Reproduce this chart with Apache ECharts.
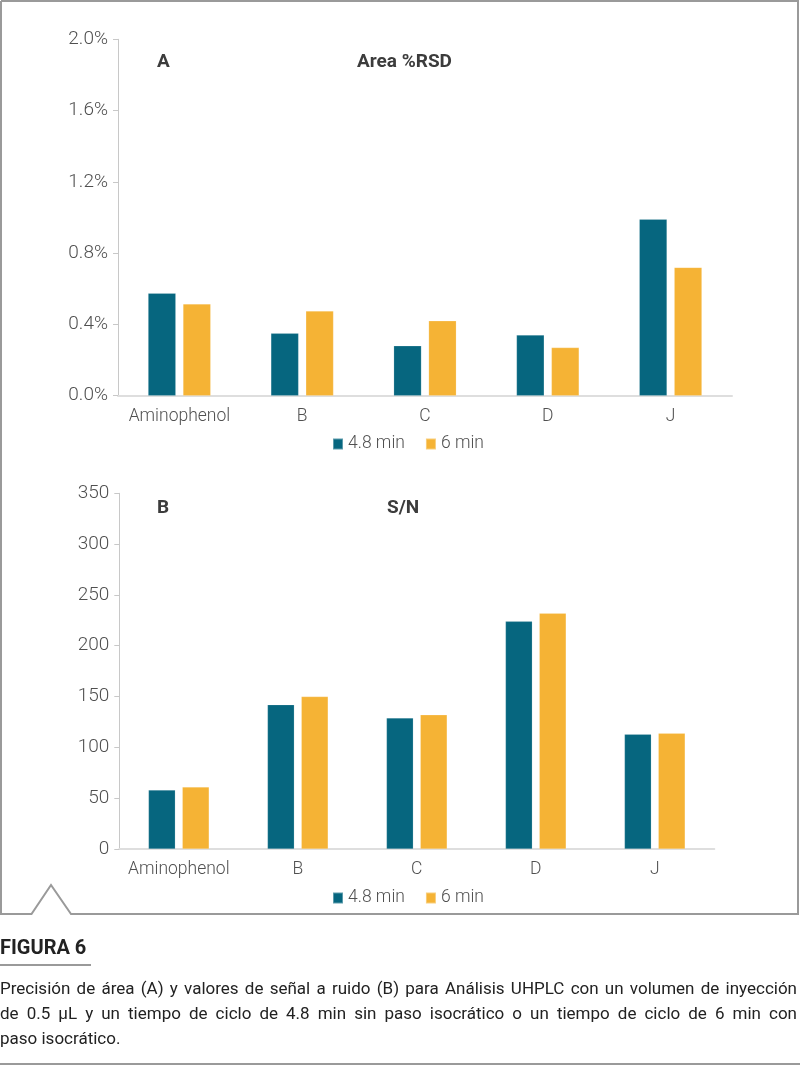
<!DOCTYPE html>
<html>
<head>
<meta charset="utf-8">
<script src="https://cdn.jsdelivr.net/npm/echarts@6/dist/echarts.min.js"></script>
<style>
  html, body { margin: 0; padding: 0; background: #fff; }
  #wrap { position: relative; width: 800px; height: 1066px; }
  #chart { position: absolute; left: 0; top: 0; width: 800px; height: 1066px; }
  #caption { position: absolute; left: 0; top: 976px; width: 797px;
    font-family: 'Roboto', sans-serif; font-size: 17px;
    line-height: 25px; color: #222; }
  #caption .j { text-align: justify; text-align-last: justify; white-space: nowrap; }
</style>
</head>
<body>
<div id="wrap">
  <div id="chart"></div>
  <div id="caption">
    <div class="j">Precisión de área (A) y valores de señal a ruido (B) para Análisis UHPLC con un volumen de inyección</div>
    <div class="j">de 0.5 µL y un tiempo de ciclo de 4.8 min sin paso isocrático o un tiempo de ciclo de 6 min con</div>
    <div>paso isocrático.</div>
  </div>
</div>
<script>
// ---- data ----
var categories = ['Aminophenol', 'B', 'C', 'D', 'J'];
var seriesNames = ['4.8 min', '6 min'];
// Panel A: Area %RSD (percent)
var rsd48 = [0.575, 0.35, 0.28, 0.34, 0.99];
var rsd6  = [0.515, 0.475, 0.42, 0.27, 0.72];
// Panel B: S/N
var sn48 = [58, 142, 129, 224, 113];
var sn6  = [61, 150, 132, 232, 114];
var titleA = ['A', 'Area %RSD'];
var titleB = ['B', 'S/N'];
var figLabel = 'FIGURA 6';

var TEAL = '#06667F';
var ORANGE = '#F5B335';
var FONT = "'Roboto', sans-serif";
var LABEL = '#505050';
var TITLE = '#3c3c3c';
var FRAME = '#9a9a9a';

var chart = echarts.init(document.getElementById('chart'), null, { renderer: 'canvas' });

function xAxis(idx) {
  return {
    type: 'category', gridIndex: idx, data: categories,
    axisLine: { show: true, lineStyle: { color: '#dedede', width: 2 } },
    axisTick: { show: false },
    axisLabel: { interval: 0, color: LABEL, fontFamily: FONT, fontWeight: 300, fontSize: 17.5, margin: 12 }
  };
}
function yAxis(idx, max, interval, fmt) {
  return {
    type: 'value', gridIndex: idx, min: 0, max: max, interval: interval,
    axisLine: { show: true, lineStyle: { color: '#c8c8c8', width: 1 } },
    axisTick: { show: true, length: 5, lineStyle: { color: '#c8c8c8' } },
    splitLine: { show: false },
    axisLabel: { color: LABEL, fontFamily: FONT, fontWeight: 300, fontSize: 19, margin: 10, formatter: fmt }
  };
}
function bar(name, data, idx, color) {
  return {
    type: 'bar', name: name, data: data, xAxisIndex: idx, yAxisIndex: idx,
    barCategoryGap: '49%', barGap: '26%',
    itemStyle: { color: color, borderColor: 'rgba(255,255,255,0.35)', borderWidth: 0.5 },
    emphasis: { disabled: true }, animation: false
  };
}
function legend(top) {
  return {
    data: seriesNames, left: 327, top: top, itemWidth: 10, itemHeight: 11, itemGap: 20,
    icon: 'rect',
    textStyle: { color: LABEL, fontFamily: FONT, fontWeight: 300, fontSize: 17.5, lineHeight: 20 }
  };
}
function titleText(x, y, s) {
  return { type: 'text', left: x, top: y, style: { text: s, fill: TITLE, font: 'bold 19px ' + FONT } };
}

chart.setOption({
  animation: false,
  grid: [
    { left: 118, right: 68, top: 39.3, height: 356.4 },
    { left: 119.3, right: 85.7, top: 493.3, height: 355.7 }
  ],
  xAxis: [xAxis(0), xAxis(1)],
  yAxis: [
    yAxis(0, 2.0, 0.4, function (v) { return v.toFixed(1) + '%'; }),
    yAxis(1, 350, 50, function (v) { return String(v); })
  ],
  legend: [legend(429), legend(883)],
  series: [
    bar(seriesNames[0], rsd48, 0, TEAL),
    bar(seriesNames[1], rsd6, 0, ORANGE),
    bar(seriesNames[0], sn48, 1, TEAL),
    bar(seriesNames[1], sn6, 1, ORANGE)
  ],
  graphic: [
    titleText(157, 53, titleA[0]),
    titleText(357, 53, titleA[1]),
    titleText(157, 499, titleB[0]),
    titleText(387, 499, titleB[1]),
    { type: 'polyline', silent: true,
      shape: { points: [[1, 1], [798, 1], [798, 914], [71, 914], [51, 885], [31.5, 914], [1, 914], [1, 1]] },
      style: { stroke: FRAME, lineWidth: 2, fill: null } },
    { type: 'text', left: 0, top: 939, style: { text: figLabel, fill: '#222', font: 'bold 20px ' + FONT } },
    { type: 'line', silent: true, shape: { x1: 0, y1: 965, x2: 91, y2: 965 }, style: { stroke: FRAME, lineWidth: 2 } },
    { type: 'line', silent: true, shape: { x1: 0, y1: 1064, x2: 800, y2: 1064 }, style: { stroke: FRAME, lineWidth: 2 } }
  ]
});
</script>
</body>
</html>
